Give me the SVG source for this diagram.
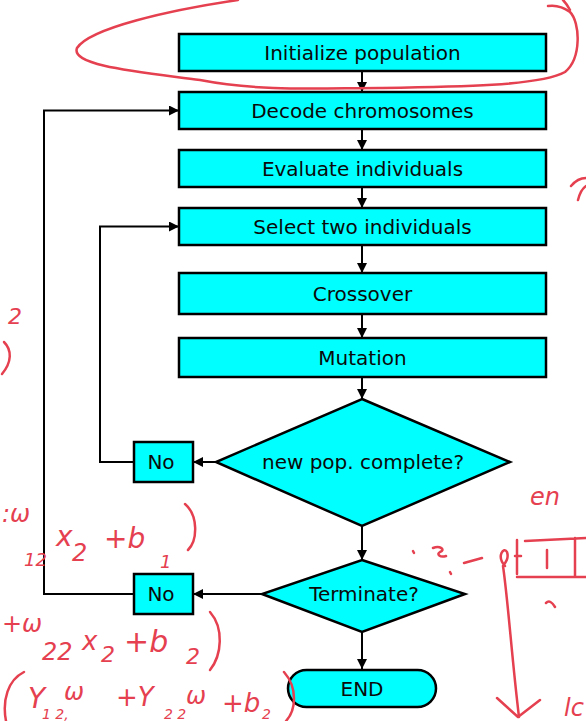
<svg xmlns="http://www.w3.org/2000/svg" width="586" height="721" viewBox="0 0 586 721">
<style>
.box{fill:#00ffff;stroke:#000;stroke-width:2.5}
.lbl{font-family:"DejaVu Sans",Verdana,sans-serif;font-size:20px;fill:#0a0a0a;text-anchor:middle}
.con{fill:none;stroke:#000;stroke-width:2}
.ink{fill:none;stroke:#e5404f;stroke-width:2.5;stroke-linecap:round;stroke-linejoin:round}
.hw{font-family:"DejaVu Sans",sans-serif;font-style:italic;fill:#e5404f}
</style>
<defs>
<marker id="ah" viewBox="0 0 10 10" refX="10" refY="5" markerWidth="11" markerHeight="10" markerUnits="userSpaceOnUse" orient="auto"><path d="M0,0 L10,5 L0,10 z" fill="#000"/></marker>
</defs>
<rect width="586" height="721" fill="#fff"/>
<g id="connectors">
<path class="con" marker-end="url(#ah)" d="M362 71 V92"/>
<path class="con" marker-end="url(#ah)" d="M362 129 V150"/>
<path class="con" marker-end="url(#ah)" d="M362 187 V208"/>
<path class="con" marker-end="url(#ah)" d="M362 245 V273"/>
<path class="con" marker-end="url(#ah)" d="M362 314 V338"/>
<path class="con" marker-end="url(#ah)" d="M362 377 V399"/>
<path class="con" marker-end="url(#ah)" d="M216 462 H193"/>
<path class="con" marker-end="url(#ah)" d="M362 526 V560"/>
<path class="con" marker-end="url(#ah)" d="M262 594 H193"/>
<path class="con" marker-end="url(#ah)" d="M362 632 V669"/>
<path class="con" marker-end="url(#ah)" d="M134 462 H100 V226.5 H179"/>
<path class="con" marker-end="url(#ah)" d="M134 594 H44 V110.5 H179"/>
</g>
<g id="init"><rect class="box" x="179" y="34" width="367" height="37"/><text class="lbl" x="362.5" y="60">Initialize population</text></g>
<g id="decode"><rect class="box" x="179" y="92" width="367" height="37"/><text class="lbl" x="362.5" y="118">Decode chromosomes</text></g>
<g id="evaluate"><rect class="box" x="179" y="150" width="367" height="37"/><text class="lbl" x="362.5" y="176">Evaluate individuals</text></g>
<g id="select"><rect class="box" x="179" y="208" width="367" height="37"/><text class="lbl" x="362.5" y="234">Select two individuals</text></g>
<g id="crossover"><rect class="box" x="179" y="273" width="367" height="41"/><text class="lbl" x="362.5" y="301">Crossover</text></g>
<g id="mutation"><rect class="box" x="179" y="338" width="367" height="39"/><text class="lbl" x="362.5" y="365">Mutation</text></g>
<g id="newpop"><polygon class="box" points="362,399 510,462 362,526 216,462"/><text class="lbl" x="363" y="469">new pop. complete?</text></g>
<g id="no1"><rect class="box" x="134" y="442" width="59" height="40"/><text class="lbl" x="161" y="469">No</text></g>
<g id="terminate"><polygon class="box" points="362,560 465,594 362,632 262,594"/><text class="lbl" x="364" y="601">Terminate?</text></g>
<g id="no2"><rect class="box" x="134" y="574" width="59" height="40"/><text class="lbl" x="161" y="601">No</text></g>
<g id="end"><rect class="box" x="288" y="670" width="148" height="37" rx="18.5"/><text class="lbl" x="362" y="696">END</text></g>
<g id="annotations">
<path class="ink" d="M238 0 C170 10 90 28 77 48 C70 66 140 72 200 80 C262 92 322 88 380 88 C455 87 540 86 565 72 C582 58 580 22 570 12 C562 6 555 5 548 6"/>
<path class="ink" d="M563 0 C566 3 568 6 570 10"/>
<path class="ink" d="M571 186 C576 180 582 178 586 178 M578 200 C580 192 583 188 586 186"/>
<path class="ink" d="M4 342 C12 350 12 362 2 374"/>
<text class="hw" x="8" y="324" font-size="22">2</text>
<text class="hw" x="2" y="522" font-size="24">:ω</text>
<text class="hw" x="24" y="566" font-size="18">12</text>
<text class="hw" x="56" y="546" font-size="28">x</text>
<text class="hw" x="72" y="561" font-size="24">2</text>
<text class="hw" x="104" y="548" font-size="28">+b</text>
<text class="hw" x="160" y="568" font-size="18">1</text>
<path class="ink" d="M185 504 C198 515 198 540 188 550"/>
<text class="hw" x="2" y="632" font-size="24">+ω</text>
<text class="hw" x="42" y="660" font-size="24">22</text>
<text class="hw" x="82" y="650" font-size="26">x</text>
<text class="hw" x="101" y="662" font-size="22">2</text>
<text class="hw" x="124" y="652" font-size="30">+b</text>
<text class="hw" x="186" y="664" font-size="22">2</text>
<path class="ink" d="M210 612 C224 628 222 655 210 670"/>
<path class="ink" d="M24 672 C8 680 2 700 6 721"/>
<text class="hw" x="28" y="708" font-size="28">Y</text>
<text class="hw" x="64" y="700" font-size="24">ω</text>
<text class="hw" x="42" y="719" font-size="14">1  2,</text>
<text class="hw" x="116" y="706" font-size="26">+Y</text>
<text class="hw" x="186" y="704" font-size="24">ω</text>
<text class="hw" x="164" y="719" font-size="14">2  2</text>
<text class="hw" x="222" y="712" font-size="26">+b</text>
<text class="hw" x="262" y="719" font-size="14">2</text>
<path class="ink" d="M284 672 C298 688 296 710 286 721"/>
<text class="hw" x="530" y="505" font-size="24">en</text>
<path class="ink" d="M413 551 L414 553 M433 548 C440 545 446 550 440 552 C436 554 440 558 446 556 M450 572 L451 574 M464 563 L482 558 M505 566 C496 556 504 546 507 552 C509 558 506 562 503 566 C508 600 512 660 519 717 M497 698 L518 717 L540 700"/>
<path class="ink" d="M517 540 V574 M515 556 L521 556 M517 577 H586 M525 541 L586 538 M547 550 V568 M575 538 V577 M546 603 C549 600 552 602 555 607"/>
<text class="hw" x="564" y="716" font-size="24">lc</text>
</g>
</svg>
